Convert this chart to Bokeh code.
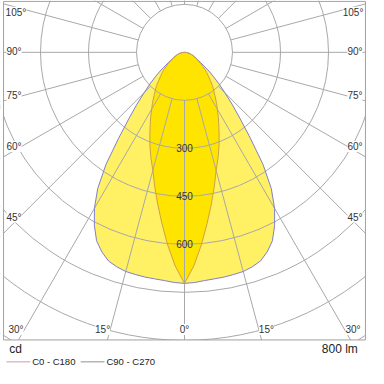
import numpy as np
from bokeh.plotting import figure
from bokeh.models import Label
from bokeh.embed import file_html
from bokeh.resources import INLINE

# ---- data (cd) ----
angles = [0, 2.5, 5, 7.5, 10, 12.5, 15, 17.5, 20, 22.5, 25, 27.5, 30, 32.5, 35, 37.5,
          40, 42.5, 45, 47.5, 50, 52.5, 55, 57.5, 60, 62.5, 65, 67.5, 70, 72.5, 75,
          77.5, 80, 82.5, 85, 87.5, 90]
c0_c180 = [722, 668, 604, 540, 482, 430, 382, 348, 315, 283, 254, 229, 205, 186, 166, 150,
           136, 119, 106, 95, 84, 71, 62, 53, 46, 40, 36, 31, 27, 23, 19,
           16, 12, 9, 6, 3, 0]
c90_c270 = [722, 720, 716, 714, 713, 711, 709, 703, 694, 675, 650, 610, 563, 505, 428, 338,
            270, 220, 178, 147, 119, 96, 74, 60, 48, 41, 36, 31, 27, 23, 19,
            16, 12, 9, 6, 3, 0]
ring_values = [150, 300, 450, 600, 750, 900, 1050, 1200]
ring_labels = ["300", "450", "600"]
angle_ticks = [0, 15, 30, 45, 60, 75, 90, 105]
flux_text = "800 lm"
unit_text = "cd"
series_names = ["C0 - C180", "C90 - C270"]

# ---- layout helpers ----
K = 2.976  # cd per reference pixel
CX, CY = 192, 56


def ref(x, y):
    return (x - CX) * K, (CY - y) * K


XR = (-575, 575)
YR = (-988, 162)
p = figure(width=368, height=368, x_range=XR, y_range=YR, output_backend="svg",
           toolbar_location=None, min_border=0)
p.axis.visible = False
p.grid.visible = False
p.outline_line_color = None
p.background_fill_color = "white"


def polygon(vals):
    th = np.radians(np.array(angles, dtype=float))
    r = np.array(vals, dtype=float)
    xr = r * np.sin(th)
    yr = -r * np.cos(th)
    xs = np.concatenate([xr, -xr[::-1]])
    ys = np.concatenate([yr, yr[::-1]])
    return xs, ys


GRID = "#a8a8a8"
wx, wy = polygon(c90_c270)
nx, ny = polygon(c0_c180)
p.patch(wx, wy, fill_color="#FFF064", line_color=None)
p.patch(nx, ny, fill_color="#FFE400", line_color=None)

# grid circles
p.circle(x=[0] * len(ring_values), y=[0] * len(ring_values), radius=ring_values,
         fill_color=None, line_color=GRID, line_width=1)
# radial lines
rad = np.radians(np.arange(0, 181, 15))
x0, y0, x1, y1 = [], [], [], []
for a in rad:
    for sgn in (-1, 1):
        x0.append(sgn * 150 * np.sin(a)); y0.append(-150 * np.cos(a))
        x1.append(sgn * 1600 * np.sin(a)); y1.append(-1600 * np.cos(a))
p.segment(x0, y0, x1, y1, line_color=GRID, line_width=1)

# outlines
p.patch(wx, wy, fill_color=None, line_color="#8080cc", line_width=1)
p.patch(nx, ny, fill_color=None, line_color="#cfa048", line_width=1)

# masks outside box
bl, br = ref(2, 0)[0], ref(382, 0)[0]
bt, bb = ref(0, 2.5)[1], ref(0, 358)[1]
p.quad(left=[-2000, -2000, -2000, br], right=[2000, 2000, bl, 2000],
       top=[2000, bb, 2000, 2000], bottom=[bt, -2000, -2000, -2000],
       fill_color="white", line_color=None)
p.quad(left=[bl], right=[br], top=[bt], bottom=[bb], fill_color=None,
       line_color="#a0a0a0", line_width=1)

FONT = "Liberation Sans"
TXT = "#333333"
# angle labels
left_pos = [(193, 347), (106, 347), (15, 347), (13, 229), (13, 155), (13, 101), (13, 55), (15, 14)]
for ang, (lx, ly) in zip(angle_ticks, left_pos):
    for side in (-1, 1):
        if ang == 0 and side == 1:
            continue
        X, Y = ref(lx, ly)
        if ang == 0:
            X = 0
        else:
            X = side * abs(X)
        p.add_layout(Label(x=X, y=Y, text=f"{ang}°", text_align="center",
                           text_baseline="middle", text_font=FONT,
                           text_font_size="10px", text_color=TXT,
                           background_fill_color="white", background_fill_alpha=1))

# ring value labels
for v, lbl in zip([300, 450, 600], ring_labels):
    p.add_layout(Label(x=0, y=-v, text=lbl, text_align="center", text_baseline="middle",
                       text_font=FONT, text_font_size="10px", text_color=TXT))

# bottom texts
X, Y = ref(8, 368)
p.add_layout(Label(x=X, y=Y, text=unit_text, text_align="left", text_baseline="middle",
                   text_font=FONT, text_font_size="12px", text_color="#222222"))
X, Y = ref(374, 368)
p.add_layout(Label(x=X, y=Y, text=flux_text, text_align="right", text_baseline="middle",
                   text_font=FONT, text_font_size="12px", text_color="#222222"))

leg_y = ref(0, 381)[1]
leg = [(5, 30, 32, "#c8a0a8"), (83, 108, 110, "#909090")]
for (a, b, t, col), name in zip(leg, series_names):
    xa, _ = ref(a, 0); xb, _ = ref(b, 0); xt, _ = ref(t, 0)
    p.line([xa, xb], [leg_y, leg_y], line_color=col, line_width=1)
    p.add_layout(Label(x=xt, y=leg_y, text=name, text_align="left", text_baseline="middle",
                       text_font=FONT, text_font_size="9.5px", text_color="#222222"))

open("out.html", "w").write(file_html(p, INLINE))
